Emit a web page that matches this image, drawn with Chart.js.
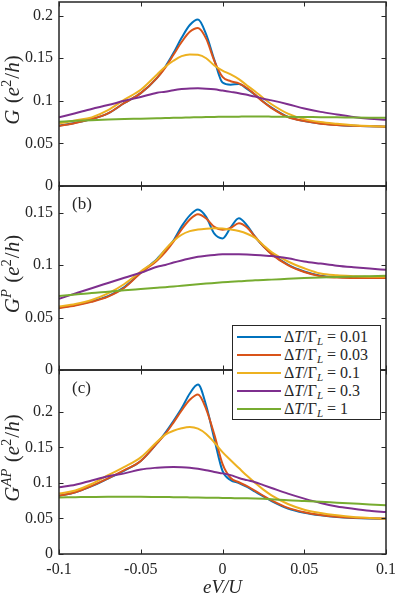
<!DOCTYPE html>
<html>
<head>
<meta charset="utf-8">
<script src="https://cdn.jsdelivr.net/npm/chart.js@4/dist/chart.umd.min.js"></script>
<style>
  body { margin: 0; background: #fff; }
  #wrap { position: relative; width: 395px; height: 601px; background: #fff; font-family: "Liberation Serif"; }
  #wrap canvas { position: absolute; left: 0; top: 0; }
  #legend {
    position: absolute; left: 232px; top: 325px; width: 147px; height: 93px;
    background: #fff; border: 1.5px solid #262626;
    font-family: "Liberation Serif", serif; font-size: 16px; color: #262626;
  }
  #legend .row { position: absolute; left: 0; height: 18px; line-height: 18px; white-space: nowrap; }
  #legend .swatch { position: absolute; left: 4px; top: 8px; width: 44px; height: 2px; }
  #legend .txt { position: absolute; left: 51px; top: 0; }
  #legend sub { font-size: 11px; vertical-align: -3px; line-height: 0; }
</style>
</head>
<body>
<div id="wrap">
  <canvas id="panelA" width="395" height="601"></canvas>
  <canvas id="panelB" width="395" height="601"></canvas>
  <canvas id="panelC" width="395" height="601"></canvas>
  <div id="legend"></div>
</div>
<script>
// eV/U sample positions
const xs = [-0.1, -0.09, -0.08, -0.07, -0.06, -0.05, -0.04, -0.035, -0.03, -0.025, -0.02, -0.015, -0.01, -0.005,
  0, 0.005, 0.01, 0.015, 0.02, 0.025, 0.03, 0.04, 0.05, 0.06, 0.07, 0.08, 0.09, 0.1];

// legend values of dT/Gamma_L
const seriesLabels = ["0.01", "0.03", "0.1", "0.3", "1"];

// (a) G
const gA001 = [0.0708, 0.0743, 0.0787, 0.0853, 0.0975, 0.109, 0.127, 0.140, 0.156, 0.174, 0.189, 0.1955, 0.178, 0.148,
  0.1215, 0.119, 0.1197, 0.114, 0.107, 0.099, 0.092, 0.0812, 0.0763, 0.0733, 0.0716, 0.0706, 0.070, 0.0696];
const gA003 = [0.0705, 0.074, 0.0786, 0.0853, 0.0975, 0.109, 0.127, 0.139, 0.154, 0.169, 0.181, 0.1855, 0.173, 0.147,
  0.128, 0.123, 0.1205, 0.115, 0.107, 0.0985, 0.0915, 0.081, 0.0762, 0.0732, 0.0716, 0.0706, 0.070, 0.0696];
const gA01 = [0.0735, 0.077, 0.0806, 0.089, 0.1015, 0.113, 0.131, 0.140, 0.147, 0.1525, 0.1545, 0.154, 0.150, 0.1415,
  0.1355, 0.131, 0.1255, 0.118, 0.111, 0.103, 0.096, 0.085, 0.0785, 0.075, 0.073, 0.0714, 0.0703, 0.0698];
const gA03 = [0.0806, 0.0855, 0.0905, 0.095, 0.100, 0.1045, 0.1095, 0.1107, 0.1125, 0.1138, 0.1146, 0.1147, 0.1143, 0.1135,
  0.112, 0.1105, 0.109, 0.107, 0.105, 0.1025, 0.1005, 0.096, 0.091, 0.087, 0.084, 0.081, 0.079, 0.0778];
const gA1 = [0.0755, 0.0765, 0.0773, 0.078, 0.0786, 0.079, 0.0795, 0.0797, 0.080, 0.0802, 0.0805, 0.0807, 0.081, 0.0811,
  0.0812, 0.0813, 0.0814, 0.0815, 0.0815, 0.0815, 0.0814, 0.0812, 0.081, 0.0808, 0.0806, 0.0804, 0.0802, 0.080];

// (b) G^P
const gB001 = [0.0595, 0.062, 0.0655, 0.0705, 0.079, 0.093, 0.106, 0.1145, 0.1235, 0.137, 0.1475, 0.153, 0.146, 0.130,
  0.1255, 0.136, 0.1447, 0.138, 0.127, 0.118, 0.111, 0.1005, 0.094, 0.090, 0.0888, 0.0884, 0.0882, 0.0882];
const gB003 = [0.059, 0.0615, 0.065, 0.070, 0.0785, 0.0925, 0.1045, 0.1125, 0.1225, 0.134, 0.1435, 0.1485, 0.1445, 0.1365,
  0.1338, 0.1355, 0.140, 0.136, 0.127, 0.118, 0.1105, 0.100, 0.0935, 0.0895, 0.0882, 0.0878, 0.0877, 0.0878];
const gB01 = [0.0606, 0.063, 0.0668, 0.073, 0.082, 0.094, 0.1055, 0.115, 0.123, 0.129, 0.1325, 0.134, 0.1348, 0.1352,
  0.135, 0.134, 0.1325, 0.130, 0.126, 0.119, 0.1125, 0.1035, 0.097, 0.092, 0.0903, 0.0895, 0.089, 0.089];
const gB03 = [0.068, 0.073, 0.078, 0.083, 0.088, 0.0927, 0.0985, 0.1002, 0.1025, 0.1045, 0.1063, 0.108, 0.109, 0.1098,
  0.1103, 0.1105, 0.1104, 0.1101, 0.1097, 0.1092, 0.1087, 0.1065, 0.1035, 0.1015, 0.0995, 0.098, 0.0967, 0.0955];
const gB1 = [0.0705, 0.072, 0.0735, 0.0747, 0.076, 0.0772, 0.0784, 0.079, 0.0797, 0.0803, 0.081, 0.0817, 0.0824, 0.083,
  0.0836, 0.0841, 0.0846, 0.0851, 0.0855, 0.0859, 0.0862, 0.087, 0.0877, 0.0883, 0.0888, 0.0892, 0.0895, 0.0898];

// (c) G^AP
const gC001 = [0.0821, 0.0868, 0.0955, 0.1062, 0.1175, 0.131, 0.156, 0.1705, 0.187, 0.205, 0.226, 0.2385, 0.209, 0.162,
  0.117, 0.104, 0.100, 0.0944, 0.0877, 0.081, 0.0745, 0.064, 0.058, 0.0544, 0.052, 0.0507, 0.050, 0.0497];
const gC003 = [0.082, 0.087, 0.096, 0.1065, 0.118, 0.131, 0.156, 0.169, 0.185, 0.202, 0.217, 0.2245, 0.204, 0.168,
  0.127, 0.107, 0.101, 0.0955, 0.089, 0.082, 0.0755, 0.065, 0.0588, 0.0548, 0.0523, 0.051, 0.0502, 0.0498];
const gC01 = [0.085, 0.0895, 0.0985, 0.111, 0.1225, 0.136, 0.158, 0.168, 0.1735, 0.177, 0.1788, 0.1765, 0.169, 0.157,
  0.1435, 0.132, 0.121, 0.110, 0.100, 0.0906, 0.0826, 0.0704, 0.0624, 0.0577, 0.0544, 0.052, 0.0507, 0.0497];
const gC03 = [0.0938, 0.0975, 0.1035, 0.1093, 0.1135, 0.119, 0.1215, 0.1222, 0.1225, 0.1222, 0.1215, 0.120, 0.118, 0.1155,
  0.1135, 0.111, 0.107, 0.104, 0.101, 0.097, 0.093, 0.085, 0.078, 0.0718, 0.067, 0.0638, 0.061, 0.059];
const gC1 = [0.0797, 0.080, 0.0803, 0.0805, 0.0805, 0.0805, 0.0803, 0.0802, 0.080, 0.0799, 0.0797, 0.0795, 0.0793, 0.0791,
  0.079, 0.0788, 0.0785, 0.0783, 0.078, 0.0776, 0.077, 0.0755, 0.0745, 0.0735, 0.0722, 0.071, 0.0698, 0.0685];

// ticks and limits
const xTicks = [-0.1, -0.05, 0, 0.05, 0.1];
const yTicksA = [0, 0.05, 0.1, 0.15, 0.2];
const yTicksB = [0, 0.05, 0.1, 0.15];
const yTicksC = [0, 0.05, 0.1, 0.15, 0.2];
const yMaxA = 0.216;
const yMaxB = 0.1755;
const yMaxC = 0.259;

const colors = ["#0072BD", "#D95319", "#EDB120", "#7E2F8E", "#77AC30"];
const axisColor = "#262626";
const serif = '"Liberation Serif"';

// box, inward ticks, y label and panel tag
const framePlugin = {
  id: "frame",
  afterDraw(chart, args, opts) {
    const { ctx, chartArea: a } = chart;
    const xs_ = chart.scales.x, ys_ = chart.scales.y;
    const tl = 4.5;
    ctx.save();
    ctx.strokeStyle = axisColor;
    ctx.lineWidth = 1.5;
    ctx.strokeRect(a.left, a.top, a.right - a.left, a.bottom - a.top);
    ctx.lineWidth = 1;
    ctx.beginPath();
    xTicks.forEach((v) => {
      const px = Math.round(xs_.getPixelForValue(v)) + 0.5;
      ctx.moveTo(px, a.bottom); ctx.lineTo(px, a.bottom - tl);
      ctx.moveTo(px, a.top); ctx.lineTo(px, a.top + tl);
    });
    opts.yTicks.forEach((v) => {
      const py = Math.round(ys_.getPixelForValue(v)) + 0.5;
      ctx.moveTo(a.left, py); ctx.lineTo(a.left + tl, py);
      ctx.moveTo(a.right, py); ctx.lineTo(a.right - tl, py);
    });
    ctx.stroke();

    // rotated y title with superscripts
    const size = 21;
    const parts = opts.title;
    let total = 0;
    parts.forEach((p) => {
      const s = p.sup ? size * 0.7 : size;
      ctx.font = (p.it ? "italic " : "") + s + "px " + serif;
      p.w = ctx.measureText(p.t).width + (p.gap || 0);
      total += p.w;
    });
    ctx.translate(19, (a.top + a.bottom) / 2 - 4);
    ctx.rotate(-Math.PI / 2);
    ctx.fillStyle = axisColor;
    ctx.textBaseline = "alphabetic";
    let x = -total / 2;
    parts.forEach((p) => {
      const s = p.sup ? size * 0.7 : size;
      ctx.font = (p.it ? "italic " : "") + s + "px " + serif;
      ctx.fillText(p.t, x, p.sup ? -8 : 0);
      x += p.w;
    });
    ctx.restore();

    if (opts.tag) {
      ctx.save();
      ctx.font = "17px " + serif;
      ctx.fillStyle = axisColor;
      ctx.textBaseline = "middle";
      ctx.fillText(opts.tag, a.left + 13, a.top + 19);
      ctx.restore();
    }
  },
};

function makePanel(id, series, yMax, yTicks, padTop, padBottom, isBottom, title, tag) {
  return new Chart(document.getElementById(id), {
    type: "line",
    data: {
      datasets: series.map((arr, i) => ({
        data: xs.map((x, j) => ({ x: x, y: arr[j] })),
        borderColor: colors[i],
        borderWidth: 2,
        pointRadius: 0,
        fill: false,
        cubicInterpolationMode: "monotone",
        order: series.length - i,
      })),
    },
    options: {
      responsive: false,
      animation: false,
      devicePixelRatio: 1,
      layout: { padding: { top: padTop, bottom: padBottom, left: 0, right: 9 } },
      plugins: {
        legend: { display: false },
        tooltip: { enabled: false },
        frame: { yTicks: yTicks, title: title, tag: tag },
      },
      scales: {
        x: {
          type: "linear",
          min: -0.1,
          max: 0.1,
          display: isBottom,
          afterBuildTicks: (s) => { s.ticks = xTicks.map((v) => ({ value: v })); },
          afterFit: (s) => {
            if (isBottom) s.height = 47;
            s.paddingLeft = 0; s.paddingRight = 0;
          },
          grid: { display: false, drawTicks: false },
          border: { display: false },
          ticks: {
            padding: 6,
            color: axisColor,
            font: { family: serif, size: 16 },
            maxRotation: 0,
            callback: (v) => String(v),
          },
          title: {
            display: true,
            text: "eV/U",
            color: axisColor,
            font: { family: serif, size: 19, style: "italic" },
            padding: { top: 0, bottom: 2 },
          },
        },
        y: {
          min: 0,
          max: yMax,
          afterBuildTicks: (s) => { s.ticks = yTicks.map((v) => ({ value: v })); },
          afterFit: (s) => {
            s.width = 59;
            s.paddingTop = 0; s.paddingBottom = 0;
          },
          grid: { display: false, drawTicks: false },
          border: { display: false },
          ticks: {
            padding: 6,
            color: axisColor,
            font: { family: serif, size: 16 },
            callback: (v) => String(v),
          },
        },
      },
    },
    plugins: [framePlugin],
  });
}

const tail = [
  { t: " ", gap: 1 },
  { t: "(" }, { t: "e", it: true }, { t: "2", sup: true, gap: 1 }, { t: "/" }, { t: "h", it: true }, { t: ")" },
];

function drawAll() {
  makePanel("panelA", [gA001, gA003, gA01, gA03, gA1], yMaxA, yTicksA, 2, 415, false,
    [{ t: "G", it: true }].concat(tail), null);
  makePanel("panelB", [gB001, gB003, gB01, gB03, gB1], yMaxB, yTicksB, 186, 231, false,
    [{ t: "G", it: true }, { t: "P", it: true, sup: true }].concat(tail), "(b)");
  makePanel("panelC", [gC001, gC003, gC01, gC03, gC1], yMaxC, yTicksC, 370, 0, true,
    [{ t: "G", it: true }, { t: "AP", it: true, sup: true }].concat(tail), "(c)");
}

// legend
const legend = document.getElementById("legend");
seriesLabels.forEach((lab, i) => {
  const row = document.createElement("div");
  row.className = "row";
  row.style.top = (1.5 + 18 * i) + "px";
  row.innerHTML = `<span class="swatch" style="background:${colors[i]}"></span>` +
    `<span class="txt">Δ<i>T</i>/Γ<sub><i>L</i></sub> = ${lab}</span>`;
  legend.appendChild(row);
});

// make sure the serif face is ready before drawing on canvas
Promise.all([
  document.fonts.load('16px "Liberation Serif"'),
  document.fonts.load('italic 16px "Liberation Serif"'),
]).then(drawAll, drawAll);
</script>
</body>
</html>
